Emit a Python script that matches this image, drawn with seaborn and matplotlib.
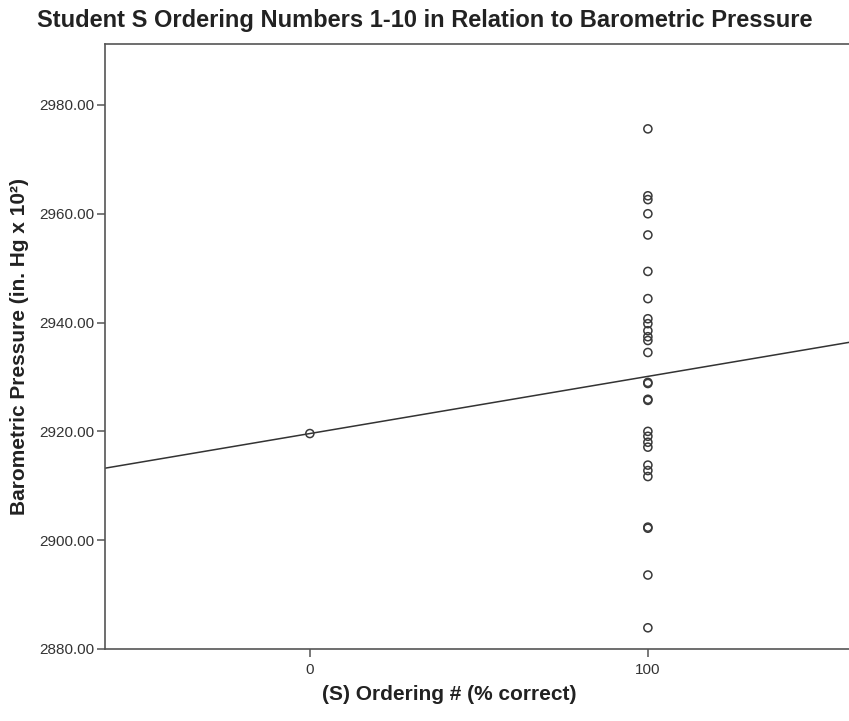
import numpy as np
import pandas as pd
import matplotlib
matplotlib.use("Agg")
import matplotlib.pyplot as plt
import seaborn as sns

# ---- data ----
ordering_pct = [0] + [100] * 28
pressure = [2919.6,
            2975.6, 2963.3, 2962.6, 2960.0, 2956.1, 2949.4, 2944.4,
            2940.7, 2939.8, 2938.5, 2937.4, 2936.7, 2934.5,
            2929.0, 2928.8, 2925.9, 2925.7,
            2920.0, 2919.1, 2918.0, 2917.1,
            2913.8, 2912.8, 2911.7, 2902.4, 2902.2, 2893.6, 2883.9]
y_ticks = [2880, 2900, 2920, 2940, 2960, 2980]
x_ticks = [0, 100]

title = "Student S Ordering Numbers 1-10 in Relation to Barometric Pressure"
x_label = "(S) Ordering # (% correct)"
y_label = "Barometric Pressure (in. Hg x 10\u00b2)"

df = pd.DataFrame({"x": ordering_pct, "y": pressure})

sns.set_style("ticks")
plt.rcParams["font.family"] = ["Liberation Sans", "DejaVu Sans"]

W, H = 849, 721
fig = plt.figure(figsize=(W / 100, H / 100), dpi=100)
left, right, top, bottom = 105, 849, 44, 649
ax = fig.add_axes([left / W, (H - bottom) / H, (right - left) / W, (bottom - top) / H])

ax.set_xlim(-60.6, 159.5)
ax.set_ylim(2880, 2991.2)

sns.regplot(data=df, x="x", y="y", ax=ax, scatter=False, ci=None,
            truncate=False, line_kws={"color": "#333333", "lw": 1.1})
sns.scatterplot(data=df, x="x", y="y", ax=ax, marker="o", s=34,
                facecolors="none", edgecolor="#3a3a3a", linewidth=1.1,
                zorder=3)

ax.set_xlim(-60.6, 159.5)
ax.set_ylim(2880, 2991.2)
ax.set_xticks(x_ticks)
ax.set_xticklabels([str(v) for v in x_ticks])
ax.set_yticks(y_ticks)
ax.set_yticklabels([f"{v:.2f}" for v in y_ticks])

for s in ["left", "bottom", "top"]:
    ax.spines[s].set_color("#555555")
    ax.spines[s].set_linewidth(1.2)
ax.spines["right"].set_visible(False)
ax.tick_params(axis="both", direction="out", length=6, width=1.1,
               color="#555555", labelsize=11, labelcolor="#333333", pad=2)
ax.tick_params(axis="x", pad=4)

ax.set_xlabel(x_label, fontsize=15, fontweight="bold", color="#222222")
ax.set_ylabel(y_label, fontsize=15, fontweight="bold", color="#222222")
ax.xaxis.set_label_coords((449 - left) / (right - left), -(695 - bottom) / (bottom - top))
ax.yaxis.set_label_coords(-(left - 20) / (right - left), 0.5)
ax.xaxis.label.set_verticalalignment("center")
ax.yaxis.label.set_verticalalignment("center")

fig.text(425 / W, 1 - 20 / H, title, ha="center", va="center",
         fontsize=17, fontweight="bold", color="#222222")

fig.savefig("out.png", dpi=100, facecolor="white")
